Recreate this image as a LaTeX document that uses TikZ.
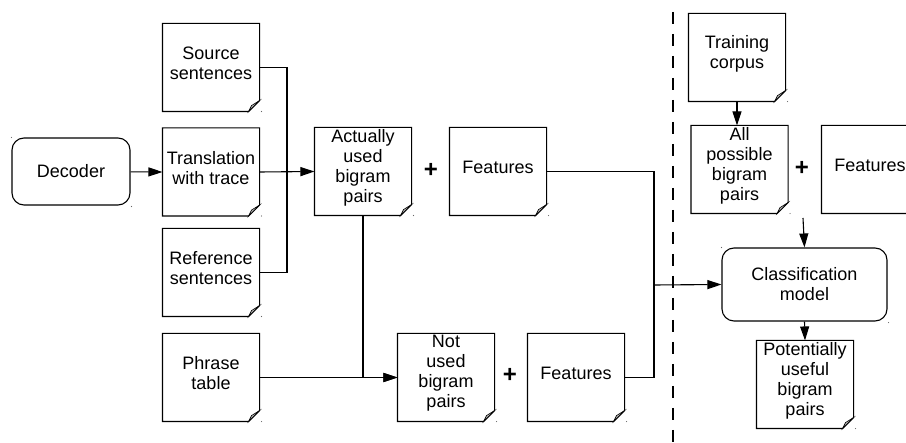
\documentclass[tikz,border=0pt]{standalone}
\usepackage{fontspec}
\setmainfont{Liberation Sans}
\usetikzlibrary{positioning, arrows.meta}

\begin{document}
\begin{tikzpicture}[
      x=1pt, y=-1pt,
      line width=1.1pt,
      every node/.style={font=\fontsize{18}{20}\selectfont},
      doc/.style={rectangle, minimum width=96pt, minimum height=87pt,
      inner sep=0pt},
      doctxt/.style={align=center, yshift=4pt, inner sep=0pt},
      proc/.style={rectangle, draw, rounded corners=12pt, align=center,
      inner sep=2pt},
      plus/.style={font=\fontsize{24}{24}\selectfont\bfseries},
      flow/.style={-{Triangle[length=14pt, width=9pt]}}
    ]
    \clip (0,0) rectangle (906,443);

    % Left side: inputs
    \node[proc, minimum width=118pt, minimum height=67pt] (dec) at (71,171.5) {Decoder};
    \node[doc, label={[doctxt]center:Source\\sentences}] (src) at (211,67.5) {};
    \node[doc, label={[doctxt]center:Translation\\with trace}] (trans) at (211,172) {};
    \node[doc, label={[doctxt]center:Reference\\sentences}] (ref) at (211,272.5) {};
    \node[doc, label={[doctxt]center:Phrase\\table}] (phr) at (211,377.5) {};

    % Bigram pairs and features
    \node[doc, label={[doctxt]center:Actually\\used\\bigram\\pairs}] (used) at (363,171.5) {};
    \node[plus] (plus1) at (431,170) {+};
    \node[doc, label={[doctxt]center:Features}] (feat1) at (498,171.5) {};
    \node[doc, label={[doctxt]center:Not\\used\\bigram\\pairs}] (nused) at (446,377.5) {};
    \node[plus] (plus2) at (510,375) {+};
    \node[doc, label={[doctxt]center:Features}] (feat2) at (576,377.5) {};

    % Right side: training
    \node[doc, label={[doctxt]center:Training\\corpus}] (train) at (737,57.5) {};
    \node[doc, label={[doctxt]center:All\\possible\\bigram\\pairs}] (all) at (739.5,169.5) {};
    \node[plus] (plus3) at (802,168) {+};
    \node[doc, label={[doctxt]center:Features}] (feat3) at (870,169.5) {};
    \node[proc, minimum width=165pt, minimum height=73pt] (cls) at (804.5,284.5) {Classification\\model};
    \node[doc, label={[doctxt]center:Potentially\\useful\\bigram\\pairs}] (pot) at (805,384.5) {};

    % document outlines with folded corner
    \foreach \n in {src, trans, ref, phr, used, feat1, nused, feat2, train, all, feat3, pot} {
      \draw (\n.north west) -- (\n.north east) -- ([yshift=11pt]\n.south east)
      -- ([xshift=-11pt]\n.south east) -- (\n.south west) -- cycle;
      \draw[fill=gray!55, line width=0.6pt] ([yshift=11pt]\n.south east)
      -- ([xshift=-11pt]\n.south east) -- ([xshift=-8pt, yshift=6pt]\n.south east) -- cycle;
      \fill[black!60] ([xshift=2pt]\n.south east) circle (0.6pt);
    }
    \foreach \n in {dec, cls} {
      \fill[black!60] (\n.north west) circle (0.6pt);
      \fill[black!60] ([xshift=1pt, yshift=-1pt]\n.south east) circle (0.6pt);
    }

    % Connections
    \coordinate (jin) at (287,172);
    \coordinate (jfeat) at (654,285);
    \coordinate (jall) at (803,218);
    \draw[flow] (dec) -- (trans.west);
    \draw (src.east) -| (jin);
    \draw (ref.east) -| (jin);
    \draw[flow] (trans.east) -- (used.west);
    \draw[flow] (phr.east) -- (nused.west);
    \draw[flow] (used.south) |- (nused.west);
    \draw (feat1.east) -| (jfeat);
    \draw (feat2.east) -| (jfeat);
    \draw[flow] (jfeat) -- (cls.west);
    \draw[flow] (train.south) -- (train.south |- all.north);
    \draw[flow] (jall) -- (cls.north);
    \draw[flow] (cls.south) -- (pot.north);

    % separator
    \draw[dash pattern=on 12pt off 10pt] (673,12) -- (673,443);
  \end{tikzpicture}
\end{document}
